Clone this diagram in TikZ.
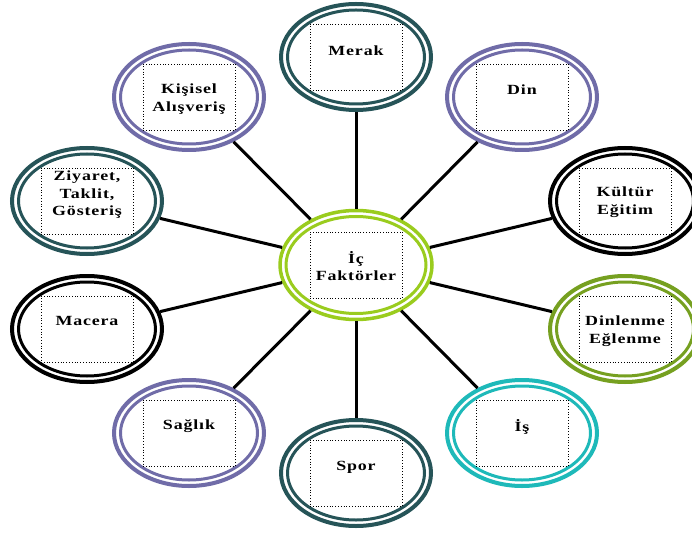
\documentclass[tikz,border=0pt]{standalone}
\usepackage{fontspec}
\newfontfamily\lblfont{Liberation Serif Bold}[FakeStretch=1.28,LetterSpace=6]
\usetikzlibrary{shapes.geometric}
\definecolor{tealdark}{RGB}{38,84,88}
\definecolor{ringpurple}{RGB}{112,108,168}
\definecolor{olivegreen}{RGB}{118,160,32}
\definecolor{limegreen}{RGB}{154,204,30}
\definecolor{ringcyan}{RGB}{30,185,185}
\tikzset{
  outerring/.style={draw=#1, line width=4pt, ellipse, minimum width=150pt, minimum height=106pt, inner sep=0pt},
  innerring/.style={draw=#1, line width=3pt, ellipse, minimum width=137pt, minimum height=94pt, inner sep=0pt},
  dotbox/.style={draw=black, dotted, line width=0.8pt, minimum width=92pt, minimum height=66pt, inner sep=0pt},
  lbl/.style={font=\lblfont\fontsize{14}{17.5}\selectfont, align=center, inner sep=0pt},
  link/.style={draw=black, line width=3pt}
}
\newcommand\bubble[6]{%
  \node[outerring=#4] (#1) at (#2,#3) {};
  \node[innerring=#4] (#1-in) at (#2,#3) {};
  \node[dotbox] (#1-box) at (#2,#3) {};
  \node[lbl] (#1-txt) at (#2,#5) {#6};
}
\begin{document}
\begin{tikzpicture}[x=1pt,y=-1pt]
\useasboundingbox (0,0) rectangle (692,534);
\clip (0,0) rectangle (692,534);
\fill[white] (0,0) rectangle (692,534);
% centre
\node[outerring=limegreen, line width=3.5pt, minimum width=152pt, minimum height=109pt] (ic) at (356,265) {};
\node[innerring=limegreen, minimum width=140pt, minimum height=97pt] (ic-in) at (356,265) {};
\node[dotbox] (ic-box) at (356,265) {};
\node[lbl] (ic-txt) at (356,266) {İç\\Faktörler};
% satellites
\bubble{merak}{356}{57}{tealdark}{51}{Merak}
\bubble{kisisel}{189}{97}{ringpurple}{99}{Kişisel\\Alışveriş}
\bubble{din}{522}{97}{ringpurple}{90}{Din}
\bubble{ziyaret}{87}{201}{tealdark}{195}{Ziyaret,\\Taklit,\\Gösteriş}
\bubble{kultur}{625}{201}{black}{202}{Kültür\\Eğitim}
\bubble{macera}{87}{329}{black}{321}{Macera}
\bubble{dinlenme}{625}{329}{olivegreen}{331}{Dinlenme\\Eğlenme}
\bubble{saglik}{189}{433}{ringpurple}{426}{Sağlık}
\bubble{spor}{356}{473}{tealdark}{467}{Spor}
\bubble{is}{522}{433}{ringcyan}{427}{İş}
% connectors
\foreach \n in {merak,kisisel,din,ziyaret,kultur,macera,dinlenme,saglik,spor,is}
  \draw[link] (ic) -- (\n);
\end{tikzpicture}
\end{document}
